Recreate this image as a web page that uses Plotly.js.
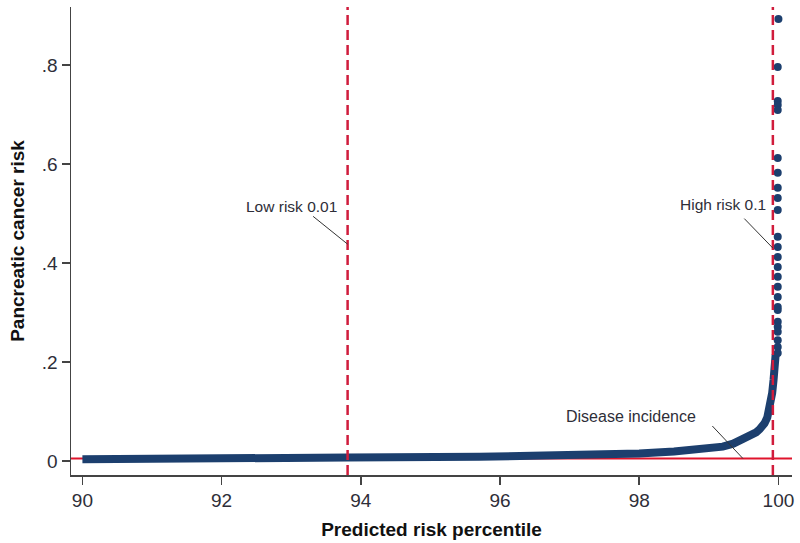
<!DOCTYPE html>
<html>
<head>
<meta charset="utf-8">
<script src="https://cdn.plot.ly/plotly-3.0.1.min.js"></script>
<style>html,body{margin:0;padding:0;background:#fff;}#chart{width:800px;height:543px;}</style>
</head>
<body>
<div id="chart"></div>
<script>
// Dense part of the curve (predicted risk percentile vs risk)
const bandPct  = [90.0, 91.5, 93.79, 93.81, 95.7, 96.6, 97.5, 98.0, 98.5, 99.0, 99.2, 99.35, 99.45, 99.55, 99.62, 99.68, 99.73, 99.77, 99.8, 99.84, 99.87, 99.89, 99.91, 99.93, 99.95, 99.96];
const bandRisk = [0.0035, 0.0037, 0.004, 0.007, 0.0085, 0.0105, 0.0125, 0.015, 0.019, 0.025, 0.029, 0.035, 0.041, 0.047, 0.052, 0.058, 0.064, 0.070, 0.076, 0.088, 0.104, 0.118, 0.137, 0.164, 0.20, 0.215];
// Sparse top-percentile individuals
const tailPct  = [100.0, 99.99, 99.99, 99.99, 99.99, 99.99, 99.99, 99.99, 99.99, 99.99, 99.99, 99.99, 99.99, 99.99, 99.99, 99.99, 99.99, 99.99, 99.99, 99.99, 99.99, 99.99, 99.99, 99.99, 99.99];
const tailRisk = [0.893, 0.796, 0.727, 0.719, 0.709, 0.612, 0.582, 0.552, 0.531, 0.507, 0.453, 0.432, 0.412, 0.392, 0.372, 0.352, 0.331, 0.311, 0.305, 0.281, 0.271, 0.261, 0.244, 0.230, 0.218];
// Reference lines
const lowRiskPct = 93.81;
const highRiskPct = 99.92;
const incidence = 0.005;
const incidenceLabelPct = 99.49;
const lowLabelRisk = 0.438;
const highLabelRisk = 0.430;
// Axis ticks
const xTickVals = [90, 92, 94, 96, 98, 100];
const xTickText = ['90', '92', '94', '96', '98', '100'];
const yTickVals = [0, 0.2, 0.4, 0.6, 0.8];
const yTickText = ['0', '.2', '.4', '.6', '.8'];

const navy = '#1c3f6e';
const red = '#d01c3c';
const txt = '#2e2e38';
const font = 'Liberation Sans, Arial, sans-serif';

const traces = [
  {x: bandPct, y: bandRisk, type: 'scatter', mode: 'lines',
   line: {color: navy, width: 8, shape: 'linear'}, hoverinfo: 'skip', showlegend: false},
  {x: tailPct, y: tailRisk, type: 'scatter', mode: 'markers',
   marker: {color: navy, size: 8}, hoverinfo: 'skip', showlegend: false}
];

function arrowAnn(x, y, ax, ay) {
  return {x: x, y: y, xref: 'x', yref: 'y', text: '', showarrow: true,
          arrowhead: 0, arrowwidth: 1, arrowcolor: '#333', ax: ax, ay: ay};
}
function textAnn(x, y, text, xs, ys, size) {
  return {x: x, y: y, xref: 'x', yref: 'y', text: text, showarrow: false,
          xshift: xs, yshift: ys, font: {family: font, size: size, color: txt}};
}

const layout = {
  width: 800, height: 543,
  margin: {l: 71, r: 8, t: 7, b: 68},
  paper_bgcolor: '#fff', plot_bgcolor: '#fff',
  showlegend: false,
  xaxis: {
    range: [89.836, 100.195], tickvals: xTickVals, ticktext: xTickText,
    showgrid: false, zeroline: false, showline: true, linecolor: '#444', linewidth: 1.5,
    ticks: 'outside', ticklen: 8, tickwidth: 1.5, tickcolor: '#444',
    tickfont: {family: font, size: 19, color: txt},
    title: {text: '<b>Predicted risk percentile</b>', font: {family: font, size: 19, color: '#111'}, standoff: 12}
  },
  yaxis: {
    range: [-0.0283, 0.917], tickvals: yTickVals, ticktext: yTickText,
    showgrid: false, zeroline: false, showline: true, linecolor: '#444', linewidth: 1.5,
    ticks: 'outside', ticklen: 8, tickwidth: 1.5, tickcolor: '#444',
    tickfont: {family: font, size: 19, color: txt},
    title: {text: '<b>Pancreatic cancer risk</b>', font: {family: font, size: 19, color: '#111'}, standoff: 12}
  },
  shapes: [
    {type: 'line', xref: 'paper', x0: 0, x1: 1, yref: 'y', y0: incidence, y1: incidence,
     line: {color: '#e0142c', width: 2}, layer: 'below'},
    {type: 'line', xref: 'x', x0: lowRiskPct, x1: lowRiskPct, yref: 'paper', y0: 0, y1: 1,
     line: {color: red, width: 2.5, dash: '10px,5px'}, layer: 'above'},
    {type: 'line', xref: 'x', x0: highRiskPct, x1: highRiskPct, yref: 'paper', y0: 0, y1: 1,
     line: {color: red, width: 2.5, dash: '10px,5px'}, layer: 'above'}
  ],
  annotations: [
    arrowAnn(lowRiskPct, lowLabelRisk, -36, -29),
    textAnn(lowRiskPct, lowLabelRisk, 'Low risk 0.01', -56, 38, 15.5),
    arrowAnn(highRiskPct, highLabelRisk, -30, -31),
    textAnn(highRiskPct, highLabelRisk, 'High risk 0.1', -50, 44, 15.5),
    arrowAnn(incidenceLabelPct, incidence, -32, -34),
    textAnn(incidenceLabelPct, incidence, 'Disease incidence', -112, 42, 16)
  ]
};

Plotly.newPlot('chart', traces, layout, {staticPlot: true, displayModeBar: false});
</script>
</body>
</html>
